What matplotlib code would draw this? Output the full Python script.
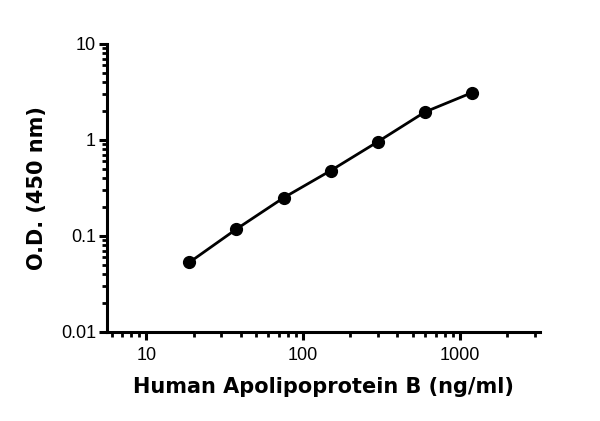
import matplotlib
matplotlib.use("Agg")
import matplotlib.pyplot as plt
from matplotlib.ticker import LogLocator, FixedLocator, NullFormatter, FixedFormatter

conc = [18.75, 37.5, 75, 150, 300, 600, 1200]
od = [0.053, 0.118, 0.25, 0.48, 0.96, 1.96, 3.12]

x_ticks = [10, 100, 1000]
x_tick_labels = ["10", "100", "1000"]
y_ticks = [0.01, 0.1, 1, 10]
y_tick_labels = ["0.01", "0.1", "1", "10"]

fig = plt.figure(figsize=(6.0, 4.21), dpi=100)
ax = fig.add_axes([107/600, 1-332/421, (540-107)/600, (332-44)/421])

ax.plot(conc, od, color="black", lw=2.0, marker="o", ms=8.5, mfc="black", mec="black", solid_capstyle="round", clip_on=False, zorder=3)

ax.set_xscale("log")
ax.set_yscale("log")
ax.set_xlim(5.6, 3250)
ax.set_ylim(0.01, 10)

ax.xaxis.set_major_locator(FixedLocator(x_ticks))
ax.xaxis.set_major_formatter(FixedFormatter(x_tick_labels))
ax.xaxis.set_minor_locator(LogLocator(base=10, subs=range(2, 10), numticks=20))
ax.xaxis.set_minor_formatter(NullFormatter())
ax.yaxis.set_major_locator(FixedLocator(y_ticks))
ax.yaxis.set_major_formatter(FixedFormatter(y_tick_labels))
ax.yaxis.set_minor_locator(LogLocator(base=10, subs=range(2, 10), numticks=20))
ax.yaxis.set_minor_formatter(NullFormatter())

for s in ["top", "right"]:
    ax.spines[s].set_visible(False)
for s in ["left", "bottom"]:
    ax.spines[s].set_linewidth(2.2)

ax.tick_params(which="major", length=6, width=2.2, direction="out", labelsize=13)
ax.tick_params(axis="x", which="major", pad=5)
ax.tick_params(axis="y", which="major", pad=2)
ax.tick_params(which="minor", length=3.5, width=2.0, direction="out")
for lab in ax.get_xticklabels() + ax.get_yticklabels():
    lab.set_family("Liberation Sans")

ax.set_xlabel("Human Apolipoprotein B (ng/ml)", fontsize=15, fontweight="bold", family="DejaVu Sans", labelpad=9)
ax.set_ylabel("O.D. (450 nm)", fontsize=15, fontweight="bold", family="DejaVu Sans", labelpad=10)

fig.savefig("out.png", dpi=100)
